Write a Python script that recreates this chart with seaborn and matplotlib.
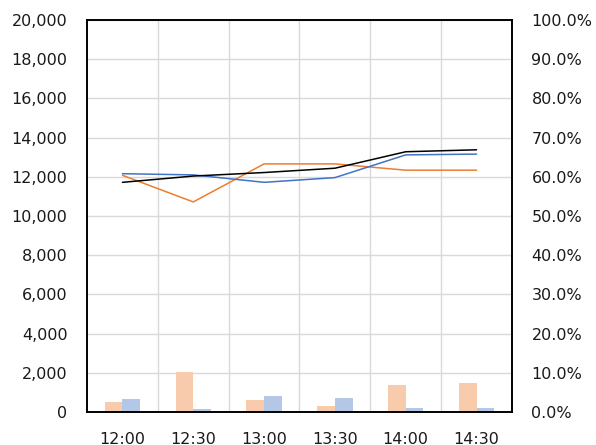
import numpy as np
import pandas as pd
import seaborn as sns
import matplotlib.pyplot as plt
from matplotlib.ticker import FuncFormatter, MultipleLocator, FixedLocator

times = ['12:00', '12:30', '13:00', '13:30', '14:00', '14:30']
bar_a = [500, 2050, 600, 330, 1380, 1500]
bar_b = [650, 150, 840, 715, 205, 200]
line_black = [0.586, 0.602, 0.611, 0.622, 0.664, 0.669]
line_blue = [0.608, 0.605, 0.586, 0.598, 0.656, 0.658]
line_orange = [0.604, 0.536, 0.633, 0.633, 0.617, 0.617]

sns.set_theme(style="white")
plt.rcParams['font.family'] = ['DejaVu Sans']

bars = pd.DataFrame({
    'time': times * 2,
    'value': bar_a + bar_b,
    'series': ['A'] * 6 + ['B'] * 6,
})

fig, ax = plt.subplots(figsize=(5.96, 4.45), dpi=100)
fig.subplots_adjust(left=0.146, right=0.859, top=0.955, bottom=0.074)

sns.barplot(data=bars, x='time', y='value', hue='series',
            palette={'A': '#F8CBAD', 'B': '#B4C7E7'}, width=0.5,
            saturation=1, legend=False, linewidth=0, ax=ax)
ax.set_xlim(-0.5, 5.5)
ax.set_ylim(0, 20000)
ax.yaxis.set_major_locator(MultipleLocator(2000))
ax.yaxis.set_major_formatter(FuncFormatter(lambda v, p: f'{int(v):,}'))
ax.xaxis.set_minor_locator(FixedLocator(np.arange(0.5, 5, 1)))
ax.grid(True, which='minor', axis='x', color='#D9D9D9', linewidth=1)
ax.grid(True, which='major', axis='y', color='#D9D9D9', linewidth=1)
ax.set_axisbelow(True)
ax.set_xlabel('')
ax.set_ylabel('')
ax.tick_params(axis='both', which='both', length=0, labelsize=11.5, colors='#1a1a1a')
ax.tick_params(axis='y', pad=14)
ax.tick_params(axis='x', pad=14)
for s in ax.spines.values():
    s.set_color('black')
    s.set_linewidth(1.2)

ax2 = ax.twinx()
pos = np.arange(len(times))
sns.lineplot(x=pos, y=line_orange, color='#ED7D31', linewidth=1.1, ax=ax2)
sns.lineplot(x=pos, y=line_blue, color='#4472C4', linewidth=1.1, ax=ax2)
sns.lineplot(x=pos, y=line_black, color='black', linewidth=1.1, ax=ax2)
ax2.set_ylim(0, 1)
ax2.yaxis.set_major_locator(MultipleLocator(0.1))
ax2.yaxis.set_major_formatter(FuncFormatter(lambda v, p: f'{v * 100:.1f}%'))
ax2.tick_params(axis='y', length=0, labelsize=11.5, colors='#1a1a1a', pad=14)
for s in ax2.spines.values():
    s.set_color('black')
    s.set_linewidth(1.2)

plt.savefig('out.png', dpi=100)
